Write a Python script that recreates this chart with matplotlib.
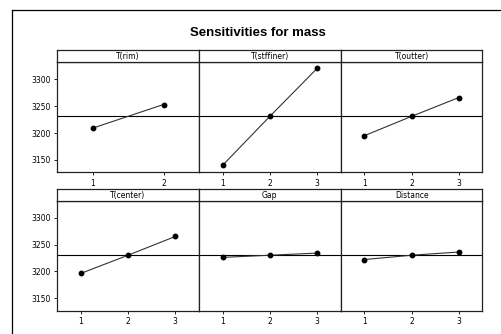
import numpy as np
import matplotlib
matplotlib.use("Agg")
import matplotlib.pyplot as plt

# data
factors = ["T(rim)", "T(stffiner)", "T(outter)", "T(center)", "Gap", "Distance"]
levels_rim = [1, 2]
levels_3 = [1, 2, 3]
mass_rim = [3209, 3253]
mass_stffiner = [3140, 3231, 3320]
mass_outter = [3195, 3231, 3266]
mass_center = [3196, 3230, 3265]
mass_gap = [3226, 3230, 3234]
mass_distance = [3222, 3230, 3236]
overall_mean = 3231
y_ticks = [3150, 3200, 3250, 3300]

levels = [levels_rim, levels_3, levels_3, levels_3, levels_3, levels_3]
values = [mass_rim, mass_stffiner, mass_outter, mass_center, mass_gap, mass_distance]

W, H = 502, 334
fig = plt.figure(figsize=(W / 100, H / 100), dpi=100)
plt.rcParams['font.family'] = ['DejaVu Sans']

# outer frame (only top/left visible in the original)
fig.add_artist(plt.Line2D([12 / W, 1], [1 - 10 / H, 1 - 10 / H], transform=fig.transFigure,
                          color='black', lw=0.9))
fig.add_artist(plt.Line2D([12 / W, 12 / W], [0, 1 - 10 / H], transform=fig.transFigure,
                          color='black', lw=0.9))

fig.text(258 / W, 1 - 33 / H, "Sensitivities for mass", ha='center', va='center',
         fontsize=9.5, fontweight='bold', family='Liberation Sans')

col_x = [57, 199, 340.7, 482.5]
rows = [(50, 62, 172.3), (189, 200.5, 310.5)]  # strip top, strip bottom/plot top, plot bottom

for i, name in enumerate(factors):
    r, c = divmod(i, 3)
    x0, x1 = col_x[c], col_x[c + 1]
    st, pt, pb = rows[r]
    ax = fig.add_axes([x0 / W, 1 - pb / H, (x1 - x0) / W, (pb - pt) / H])
    ax.axhline(overall_mean, color='black', lw=0.8, zorder=1)
    ax.plot(levels[i], values[i], color='#333333', lw=0.8, marker='o', ms=3.2,
            mfc='black', mec='black', zorder=3)
    ax.set_xlim(0.5, len(levels[i]) + 0.5)
    ax.set_ylim(3127, 3332)
    ax.set_xticks(levels[i])
    ax.tick_params(axis='x', labelsize=5.5, length=2.5, width=0.6, pad=2)
    if c == 0:
        ax.set_yticks(y_ticks)
        ax.tick_params(axis='y', labelsize=5.5, length=2.5, width=0.6, pad=2)
    else:
        ax.set_yticks([])
    for s in ax.spines.values():
        s.set_linewidth(0.9)
        s.set_color('#222222')

    # strip with the factor name
    sax = fig.add_axes([x0 / W, 1 - pt / H, (x1 - x0) / W, (pt - st) / H])
    sax.set_xticks([])
    sax.set_yticks([])
    for s in sax.spines.values():
        s.set_linewidth(0.9)
        s.set_color('#222222')
    sax.text(0.5, 0.45, name, ha='center', va='center', fontsize=5.5,
             transform=sax.transAxes)

fig.savefig("out.png", dpi=100)
